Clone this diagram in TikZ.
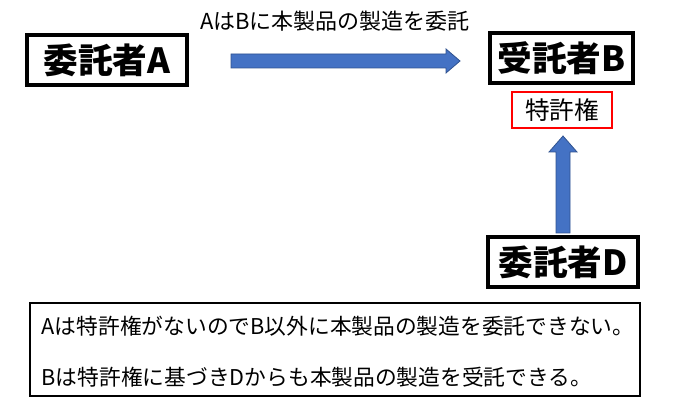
\documentclass[tikz,border=0pt]{standalone}
\usepackage{fontspec}
\setmainfont{Noto Sans CJK JP}
\definecolor{arrowblue}{HTML}{4472C4}
\definecolor{arrowedge}{HTML}{2F528F}
\tikzset{
  party/.style={draw,line width=2.6pt,minimum width=#1,minimum height=50*0.75pt,inner sep=0pt,font=\fontsize{26}{30}\selectfont\bfseries},
  patent/.style={draw=red,line width=1.5pt,minimum width=100*0.75pt,minimum height=36*0.75pt,inner sep=0pt,font=\fontsize{18.5}{21}\selectfont},
  notetext/.style={anchor=west,font=\fontsize{16.3}{19}\selectfont}
}
\begin{document}
\begin{tikzpicture}[x=0.75pt,y=-0.75pt]
\useasboundingbox (0,0) rectangle (673,409);
\node[party=160*0.75pt] (clientA) at (107,60) {委託者A};
\node[party=143*0.75pt] (contractorB) at (561.5,58) {受託者B};
\node[patent] (patent) at (562,110) {特許権};
\node[party=150*0.75pt] (clientD) at (563,262) {委託者D};
\node[font=\fontsize{16.5}{19}\selectfont] (order) at (335,21) {AはBに本製品の製造を委託};
% block arrows
\draw[fill=arrowblue,draw=arrowedge,line width=0.6pt] (231,54) -- (446,54) -- (446,49) -- (460,61) -- (446,73) -- (446,68) -- (231,68) -- cycle;
\draw[fill=arrowblue,draw=arrowedge,line width=0.6pt] (556,233) -- (556,152) -- (549,152) -- (563,136) -- (577,152) -- (570,152) -- (570,233) -- cycle;
% note box
\draw[line width=0.8pt] (30,303) rectangle (640,396);
\node[notetext] (noteA) at (37,326) {Aは特許権がないのでB以外に本製品の製造を委託できない。};
\node[notetext] (noteB) at (37,377) {Bは特許権に基づきDからも本製品の製造を受託できる。};
\end{tikzpicture}
\end{document}
